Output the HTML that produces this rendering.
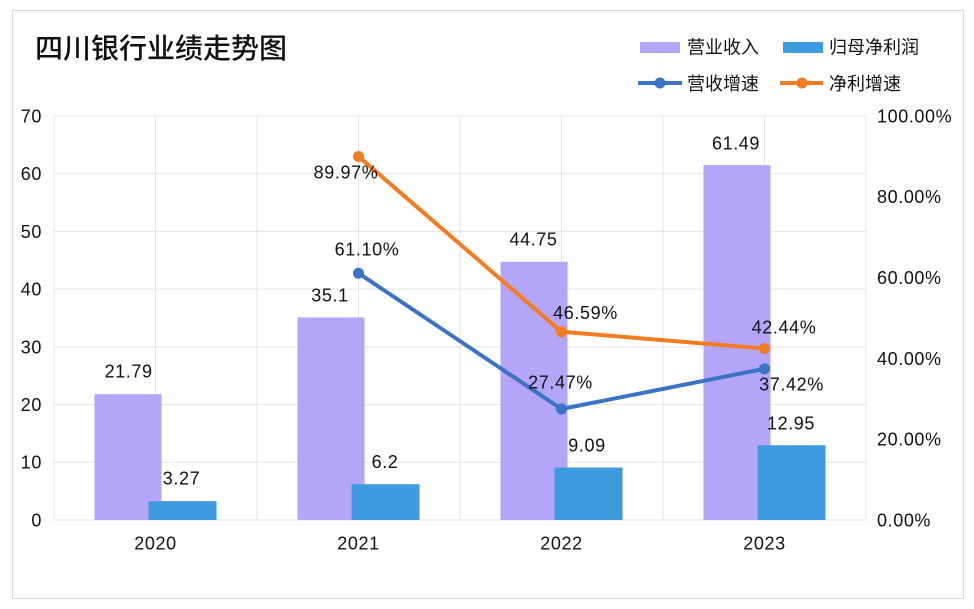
<!DOCTYPE html>
<html><head><meta charset="utf-8"><style>
html,body{margin:0;padding:0;background:#fff;}
svg{display:block;}
text{font-family:"Liberation Sans","Noto Sans CJK SC",sans-serif;fill:#111;}
.t{font-size:18px;letter-spacing:0.6px;}
.c{font-size:18px;}
</style></head><body>
<svg width="974" height="609" viewBox="0 0 974 609" xmlns="http://www.w3.org/2000/svg">
<rect x="0" y="0" width="974" height="609" fill="#fff"/>
<rect x="12.5" y="10.5" width="951" height="588" fill="#fff" stroke="#dadada" stroke-width="1"/>
<text x="35" y="58" style="font-size:28px;font-weight:500;">四川银行业绩走势图</text>
<!-- legend -->
<rect x="640" y="42" width="40" height="11" fill="#b4a5f9"/>
<text class="c" x="687" y="53.5">营业收入</text>
<rect x="783" y="42" width="40" height="11" fill="#3f9be0"/>
<text class="c" x="829" y="53.5">归母净利润</text>
<line x1="638" y1="83" x2="682" y2="83" stroke="#3a74c7" stroke-width="4"/>
<circle cx="660" cy="83" r="5.5" fill="#3a74c7"/>
<text class="c" x="687" y="90">营收增速</text>
<line x1="780" y1="83" x2="823" y2="83" stroke="#f47b20" stroke-width="4"/>
<circle cx="802" cy="83" r="5.5" fill="#f47b20"/>
<text class="c" x="829" y="90">净利增速</text>
<!-- grid -->
<g stroke="#e3e3e3" stroke-width="1">
<line x1="54" y1="116" x2="866" y2="116"/>
<line x1="54" y1="173.7" x2="866" y2="173.7"/>
<line x1="54" y1="231.4" x2="866" y2="231.4"/>
<line x1="54" y1="289.1" x2="866" y2="289.1"/>
<line x1="54" y1="346.9" x2="866" y2="346.9"/>
<line x1="54" y1="404.6" x2="866" y2="404.6"/>
<line x1="54" y1="462.3" x2="866" y2="462.3"/>
<line x1="54" y1="520" x2="866" y2="520"/>
<line x1="54" y1="116" x2="54" y2="520"/>
<line x1="155.5" y1="116" x2="155.5" y2="520"/>
<line x1="257" y1="116" x2="257" y2="520"/>
<line x1="358.5" y1="116" x2="358.5" y2="520"/>
<line x1="460" y1="116" x2="460" y2="520"/>
<line x1="561.5" y1="116" x2="561.5" y2="520"/>
<line x1="663" y1="116" x2="663" y2="520"/>
<line x1="764.5" y1="116" x2="764.5" y2="520"/>
<line x1="866" y1="116" x2="866" y2="520"/>
</g>
<!-- left axis -->
<g class="t" text-anchor="end">
<text class="t" x="42" y="122.4">70</text>
<text class="t" x="42" y="180.1">60</text>
<text class="t" x="42" y="237.8">50</text>
<text class="t" x="42" y="295.5">40</text>
<text class="t" x="42" y="353.3">30</text>
<text class="t" x="42" y="411">20</text>
<text class="t" x="42" y="468.7">10</text>
<text class="t" x="42" y="526.4">0</text>
</g>
<!-- right axis -->
<text class="t" x="877" y="122.4">100.00%</text>
<text class="t" x="877" y="203.2">80.00%</text>
<text class="t" x="877" y="284">60.00%</text>
<text class="t" x="877" y="364.8">40.00%</text>
<text class="t" x="877" y="445.6">20.00%</text>
<text class="t" x="877" y="526.4">0.00%</text>
<!-- x labels -->
<g text-anchor="middle">
<text class="t" x="155.5" y="549.5">2020</text>
<text class="t" x="358.5" y="549.5">2021</text>
<text class="t" x="561.5" y="549.5">2022</text>
<text class="t" x="764.5" y="549.5">2023</text>
</g>
<!-- bars -->
<g fill="#b4a5f9">
<rect x="94.5" y="394.24" width="67" height="125.76"/>
<rect x="297.5" y="317.42" width="67" height="202.58"/>
<rect x="500.5" y="261.73" width="67" height="258.27"/>
<rect x="703.5" y="165.11" width="67" height="354.89"/>
</g>
<g fill="#3f9be0">
<rect x="148.5" y="501.13" width="68" height="18.87"/>
<rect x="351.5" y="484.22" width="68" height="35.78"/>
<rect x="554.5" y="467.54" width="68" height="52.46"/>
<rect x="757.5" y="445.26" width="68" height="74.74"/>
</g>
<!-- lines -->
<polyline points="358.5,273.2 561.5,409 764.5,368.8" fill="none" stroke="#3a74c7" stroke-width="4" stroke-linejoin="round"/>
<polyline points="358.5,156.5 561.5,331.8 764.5,348.5" fill="none" stroke="#f47b20" stroke-width="4" stroke-linejoin="round"/>
<g fill="#3a74c7">
<circle cx="358.5" cy="273.2" r="5.5"/>
<circle cx="561.5" cy="409" r="5.5"/>
<circle cx="764.5" cy="368.8" r="5.5"/>
</g>
<g fill="#f47b20">
<circle cx="358.5" cy="156.5" r="5.5"/>
<circle cx="561.5" cy="331.8" r="5.5"/>
<circle cx="764.5" cy="348.5" r="5.5"/>
</g>
<!-- data labels -->
<g text-anchor="middle">
<text class="t" x="128.6" y="377.4">21.79</text>
<text class="t" x="181.5" y="484.4">3.27</text>
<text class="t" x="330" y="301.4">35.1</text>
<text class="t" x="385" y="468.1">6.2</text>
<text class="t" x="533.5" y="245.4">44.75</text>
<text class="t" x="587" y="451.4">9.09</text>
<text class="t" x="736" y="149.4">61.49</text>
<text class="t" x="791" y="429.4">12.95</text>
<text class="t" x="346" y="178.4">89.97%</text>
<text class="t" x="367" y="255.4">61.10%</text>
<text class="t" x="585.5" y="318.9">46.59%</text>
<text class="t" x="560.5" y="388.4">27.47%</text>
<text class="t" x="784" y="333.4">42.44%</text>
<text class="t" x="791.5" y="390.4">37.42%</text>
</g>
</svg>
</body></html>
